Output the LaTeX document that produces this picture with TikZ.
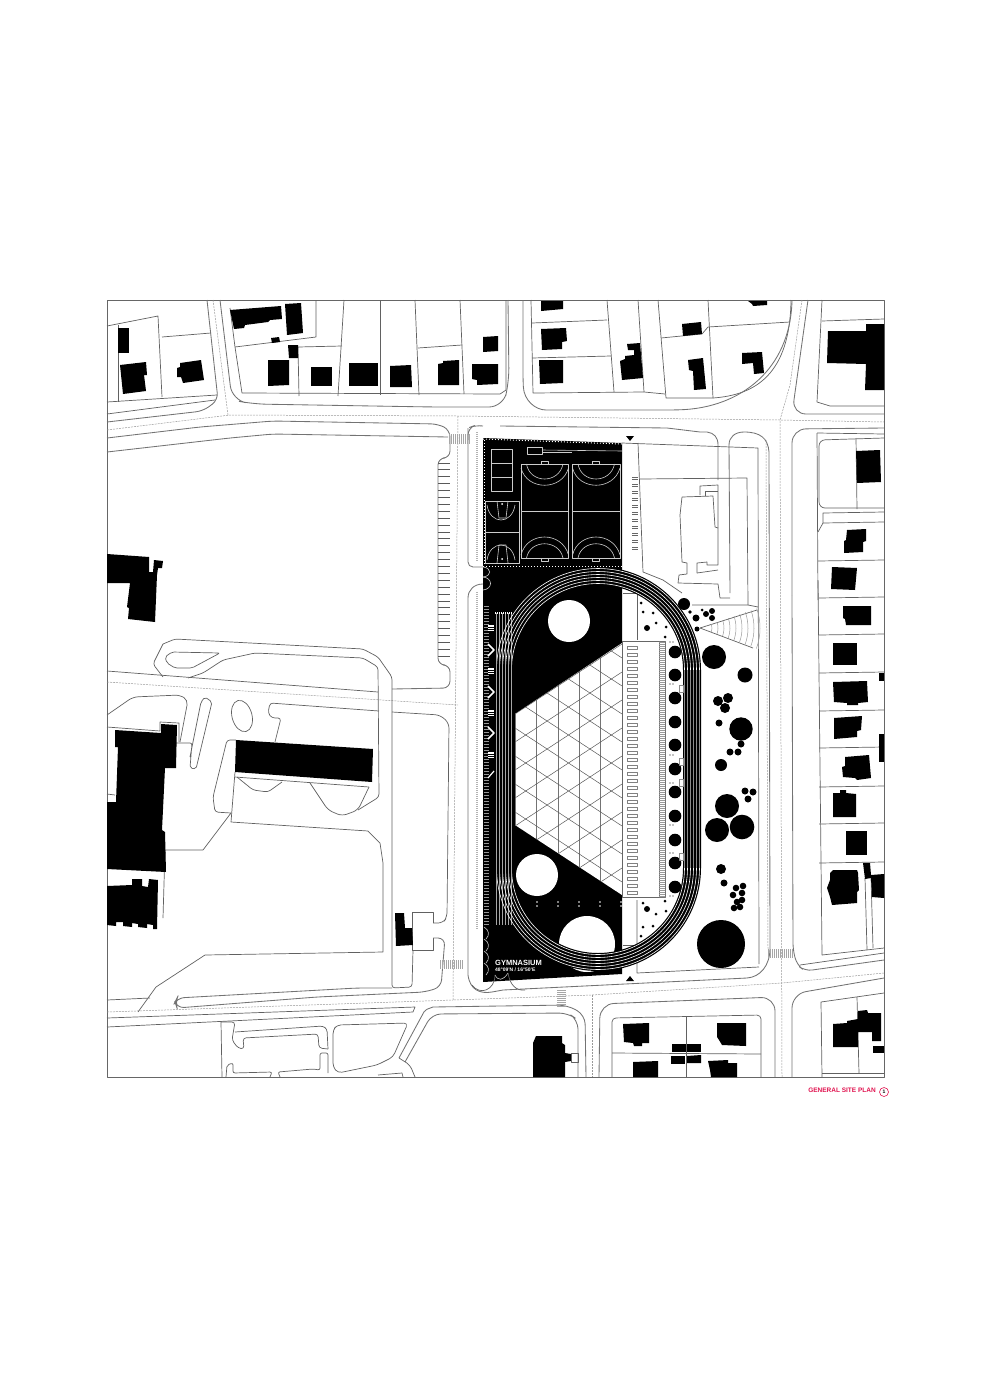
\documentclass[tikz,border=0pt]{standalone}
\usepackage{fontspec}
\setmainfont{Liberation Sans}
\definecolor{planred}{HTML}{E0134F}
\newcommand{\ovalpath}[1]{({598-#1},670) arc[start angle=180,end angle=360,radius=#1] -- ({598+#1},868) arc[start angle=0,end angle=180,radius=#1] -- cycle}
\begin{document}
\begin{tikzpicture}[x=1pt,y=-1pt,line join=round]
\tikzstyle{bldg}=[fill=black]
\tikzstyle{parcel}=[draw=black!62,line width=.7pt]
\tikzstyle{kerb}=[draw=black!55,line width=.85pt,rounded corners=7pt]
\tikzstyle{centre}=[draw=black!40,line width=.5pt,dash pattern=on 2pt off 1pt]
\tikzstyle{stripe}=[draw=black!35,line width=.8pt]
\tikzstyle{lane}=[draw=white,line width=.6pt]
\tikzstyle{courtline}=[draw=white!80!black,line width=.6pt]
\useasboundingbox (0,0) rectangle (988,1397);

% frame
\draw[draw=black!60,line width=.8pt] (107,300) rectangle (884,1077);

% parcels north west
\draw[parcel] (107,326) -- (158,316) -- (162,397);
\draw[parcel] (118,325) -- (118,402);
\draw[parcel] (162,337) -- (211,333);
\draw[parcel] (107,402) -- (217,395);
\draw[parcel] (107,414) -- (215,400);
\draw[parcel] (230,308) -- (235,347) -- (242,393) -- (500,394) -- (506,390) -- (506,300);
\draw[parcel] (235,347) -- (316,337) -- (316,300);
\draw[parcel] (299,396) -- (298,347) -- (342,346);
\draw[parcel] (344,300) -- (338,396);
\draw[parcel] (380,300) -- (380,395);
\draw[parcel] (415,300) -- (419,395);
\draw[parcel] (418,348) -- (462,345);
\draw[parcel] (460,300) -- (464,394);
% parcels north middle
\draw[parcel] (531,300) -- (533,393) -- (644,392) -- (665,394);
\draw[parcel] (532,323) -- (607,320);
\draw[parcel] (532,358) -- (611,356);
\draw[parcel] (607,300) -- (614,392);
\draw[parcel] (638,300) -- (644,392);
\draw[parcel] (658,300) -- (666,398) -- (713,398);
\draw[parcel] (708,300) -- (713,398);
\draw[parcel] (661,338) -- (702,334) -- (708,327) -- (790,322);
\draw[parcel] (713,398) .. controls (755,395) and (790,375) .. (791,300);
% parcels north east
\draw[parcel] (822,300) -- (817,402) -- (830,406) -- (884,406);
\draw[parcel] (822,321) -- (884,319);
\draw[parcel] (817,433) -- (884,434);
\draw[parcel] (817,433) -- (818,600);
\draw[parcel,rounded corners=6pt] (884,438) -- (819,440) -- (819,508) -- (884,508);
\draw[parcel] (856,438) -- (857,509);
\draw[parcel] (823,523) -- (823,513) -- (884,512);
\draw[parcel] (823,523) -- (884,522);
\draw[parcel] (818,532) -- (823,523);
\draw[parcel] (818,561) -- (884,560);
\draw[parcel] (818,580) -- (822,955) -- (884,948);
\foreach \py in {598,635,673,711,748,787,824,863}
  \draw[parcel] (819,\py) -- (884,\py-1);
\draw[parcel] (865,878) -- (867,950);
\draw[parcel] (871,878) -- (873,948);
% parcels south
\draw[parcel,rounded corners=4pt] (612,1077) -- (612,1018) -- (761,1015) -- (761,1077);
\draw[parcel] (612,1053) -- (761,1054);
\draw[parcel] (686,1017) -- (686,1077);
\draw[parcel] (822,1077) -- (821,1002) -- (884,993);
\draw[parcel] (857,997) -- (859,1073);
\draw[parcel] (822,1073) -- (884,1073);

% roads
\draw[kerb] (107,422) -- (203,411) -- (218,400) -- (207,300);
\draw[kerb,rounded corners=14pt] (220,300) -- (232,400) -- (253,404) -- (433,407) -- (503,407) -- (509,382) -- (508,300);
\draw[kerb] (107,438) -- (200,427) -- (273,421) -- (438,424) -- (450,430) -- (450,458) -- (438,458) -- (438,665) -- (450,665) -- (450,688) -- (392,689);
\draw[kerb] (107,452) -- (230,438) -- (273,434) -- (448,437);
\draw[kerb] (523,300) -- (523,380) .. controls (524,400) and (535,410) .. (553,410) -- (673,410) .. controls (740,408) and (790,370) .. (792,301);
\draw[kerb,rounded corners=0pt] (500,426) -- (667,428) -- (700,432) -- (707,432) .. controls (714,433) and (718,437) .. (718,445) -- (718,480);
\draw[kerb,rounded corners=0pt] (730,593) -- (729,445) .. controls (729,437) and (735,432) .. (744,432) .. controls (760,432) and (768,438) .. (769,452) -- (770,948) .. controls (770,966) and (760,977) .. (747,978) -- (503,990) -- (492,992) .. controls (480,994) and (470,990) .. (468,975) -- (468,598) .. controls (468,590) and (474,584) .. (483,584);
\draw[kerb,rounded corners=5pt] (468,428) -- (468,567) -- (483,567);
\draw[kerb] (468,440) -- (468,428) -- (476,425) -- (483,426);
\draw[kerb,rounded corners=14pt] (808,300) -- (792,414) -- (884,414);
\draw[kerb,rounded corners=14pt] (792,595) -- (792,429) -- (884,428);
\draw[kerb] (792,595) -- (793,950) -- (797,965) -- (805,971) -- (884,960);
\draw[parcel] (800,965) -- (884,953);
\draw[kerb,rounded corners=14pt] (792,1077) -- (792,994) -- (884,978);
\draw[kerb,rounded corners=14pt] (775,1077) -- (775,997) -- (600,1004) -- (599,1077);
\draw[kerb,rounded corners=9pt] (433,1007) -- (567,1005) -- (585,1015) -- (586,1077);
\draw[kerb,rounded corners=9pt] (405,1062) -- (432,1014) -- (568,1013) -- (578,1020) -- (578,1077);
\draw[kerb,rounded corners=2pt] (399,1058) -- (425,1010) -- (433,1007);
\draw[centre] (107,430) -- (230,415) -- (458,416) -- (780,420) -- (884,422);
\draw[centre] (213,300) -- (228,415);
\draw[centre] (802,300) -- (790,385) -- (780,420) -- (782,1077);
\draw[centre] (458,416) -- (453,1000) -- (592,995) -- (782,983) -- (884,973);
\draw[centre] (592,995) -- (592,1077);
\draw[centre] (107,682) -- (458,705);
\draw[centre] (107,1012) -- (453,1000);
\draw[centre] (766,440) -- (768,950);

% school grounds
\draw[parcel,rounded corners=3pt] (163,644) -- (175,639) -- (363,649) -- (378,657) -- (392,677) -- (392,988) -- (412,987) -- (413,950);
\draw[parcel,rounded corners=3pt] (163,644) -- (153,664) -- (163,677);
\draw[parcel,rounded corners=3pt] (188,678) -- (203,673) -- (223,660) -- (255,653) -- (363,658) -- (378,667) -- (379,797) -- (358,810);
\draw[parcel,rounded corners=2pt] (165,657) -- (172,652) -- (220,653) -- (192,668) -- (175,668) -- (167,663) -- cycle;
\draw[parcel] (107,671) -- (378,692);
\draw[parcel,rounded corners=5pt] (107,715) -- (133,697) -- (180,695) -- (188,700) -- (180,742);
\draw[parcel] (107,727) -- (160,731) -- (160,722) -- (179,723) -- (179,742);
\draw[parcel,rounded corners=2pt] (175,743) -- (192,743) -- (190,768) -- (196,769) -- (212,702) -- (205,697) -- (201,702) -- (190,757);
\draw[parcel,rotate around={15:(242,716)}] (242,716) ellipse (10 and 16);
\draw[parcel,rounded corners=3pt] (379,711) -- (270,703) -- (268,713) -- (272,718) -- (281,718) -- (275,742);
\draw[parcel,rounded corners=3pt] (236,740) -- (227,740) -- (213,797) -- (215,812) -- (231,813);
\draw[parcel] (235,772) -- (231,822) -- (368,831) -- (380,843) -- (383,863) -- (383,952) -- (205,955) -- (156,987) -- (138,1012);
\draw[parcel] (231,813) -- (203,850) -- (165,850) -- (163,918);
\draw[parcel] (235,777) -- (369,787);
\draw[parcel,rounded corners=3pt] (237,777) -- (253,790) -- (268,792) -- (282,782);
\draw[parcel,rounded corners=5pt] (310,783) -- (328,810) -- (342,816) -- (358,810) -- (369,787);
\draw[parcel] (107,794) -- (115,795);
\draw[parcel,rounded corners=5pt] (392,712) -- (440,715) -- (449,723) -- (447,917) -- (443,923) -- (433,923);
\draw[parcel] (433,923) -- (433,912) -- (412,912) -- (412,950) -- (433,950) -- (433,938);
\draw[kerb] (433,938) -- (445,938) -- (441,987) -- (425,992) -- (317,997) -- (177,1008) -- (175,1002) -- (177,998) -- (357,988) -- (392,988);
\draw[parcel] (107,1000) -- (150,998);
\draw[parcel] (107,1018) -- (415,1007) -- (413,1012) -- (107,1027);
\draw[parcel] (221,1022) -- (222,1077);
\draw[parcel,rounded corners=3pt] (221,1022) -- (235,1022) -- (232,1040) -- (238,1048) -- (244,1049) -- (243,1038) -- (318,1034) -- (319,1048) -- (328,1049);
\draw[parcel,rounded corners=3pt] (235,1032) -- (323,1026) -- (327,1029) -- (328,1049);
\draw[parcel,rounded corners=2pt] (280,1077) -- (278,1072) -- (313,1069) -- (320,1070) -- (320,1053) -- (328,1053) -- (328,1073);
\draw[parcel,rounded corners=2pt] (226,1077) -- (227,1065) -- (233,1063) -- (233,1073) -- (272,1072) -- (270,1077);
\draw[parcel,rounded corners=4pt] (333,1030) -- (337,1025) -- (408,1023) -- (393,1057) -- (377,1065) -- (338,1073) -- (333,1067) -- cycle;
\draw[parcel] (378,1075) -- (402,1073) -- (403,1077);
\draw[parcel,rounded corners=4pt] (399,1058) -- (410,1065) -- (415,1077);

% crossings and parking
\foreach \sx in {449,451,...,469}
  \draw[stripe] (\sx,434) -- (\sx,444);
\foreach \sx in {440,442,...,463}
  \draw[stripe] (\sx,960) -- (\sx,969);
\foreach \sx in {768,770,...,793}
  \draw[stripe] (\sx,949) -- (\sx,958);
\foreach \sy in {990,992,...,1006}
  \draw[stripe] (557,\sy) -- (566,\sy);
\foreach \sy in {463,469.9,...,657}
  \draw[draw=black!65,line width=.9pt] (438,\sy) -- (450,\sy);

% plot east of the field
\draw[parcel] (622,443) -- (758,448) -- (759,964);
\draw[parcel] (638,443) -- (643,572) -- (663,580) -- (682,593);
\draw[parcel] (640,479) -- (747,478) -- (748,605);
\draw[parcel] (682,497) -- (713,496) -- (715,527) -- (718,528) -- (718,565) -- (707,565) -- (707,562) -- (697,563) -- (697,573) -- (718,570);
\draw[parcel] (682,497) -- (680,515) -- (682,562) -- (687,563) -- (687,574) -- (679,575) -- (678,583) -- (718,584) -- (720,598) -- (730,598);
\draw[parcel] (700,495) -- (700,486) -- (718,485) -- (718,528);
\draw[parcel] (705,496) -- (705,491) -- (718,491);
\draw[parcel] (692,605) -- (748,605) -- (758,607);
\draw[parcel] (623,593) -- (637,593) -- (637,640);
\draw[parcel] (623,945) -- (637,945);
\draw[parcel] (637,900) -- (637,973) -- (759,967);
\foreach \sy in {477,484,...,547} {
  \draw[draw=black!60,line width=.6pt] (632,\sy) -- (638,\sy);
  \draw[draw=black!60,line width=.6pt] (632,\sy+2) -- (638,\sy+2);
}
% amphitheatre
\draw[parcel] (700,628) -- (757,610);
\draw[parcel] (700,628) -- (753,648);
\foreach \fr in {12,18,...,60}
  \draw[draw=black!40,line width=.5pt] (700,628) ++(-19:\fr) arc[start angle=-19,end angle=20,radius=\fr];

% buildings north west
\fill[bldg] (118,328) -- (129,328) -- (129,353) -- (118,353) -- cycle;
\fill[bldg] (120,365) -- (146,362) -- (147,375) -- (144,375) -- (146,391) -- (123,394) -- cycle;
\fill[bldg] (180,363) -- (201,360) -- (204,380) -- (183,383) -- (181,377) -- (177,377) -- (177,368) -- (180,367) -- cycle;
\fill[bldg] (230,310) -- (281,306) -- (282,319) -- (270,320) -- (268,322) -- (245,325) -- (244,328) -- (234,329) -- cycle;
\fill[bldg] (285,304) -- (301,303) -- (303,333) -- (287,335) -- cycle;
\fill[bldg] (271,338) -- (279,337) -- (280,342) -- (272,343) -- cycle;
\fill[bldg] (288,345) -- (298,345) -- (298,358) -- (289,358) -- cycle;
\fill[bldg] (268,360) -- (289,360) -- (289,385) -- (268,386) -- cycle;
\fill[bldg] (311,367) -- (332,367) -- (332,386) -- (311,386) -- cycle;
\fill[bldg] (349,363) -- (378,363) -- (378,386) -- (349,386) -- cycle;
\fill[bldg] (390,366) -- (411,365) -- (412,387) -- (390,387) -- cycle;
\fill[bldg] (438,364) -- (443,363) -- (443,361) -- (459,360) -- (459,385) -- (438,385) -- cycle;
\fill[bldg] (483,337) -- (498,336) -- (498,351) -- (483,352) -- cycle;
\fill[bldg] (472,364) -- (498,364) -- (498,384) -- (477,385) -- (477,380) -- (472,379) -- cycle;
% buildings north middle
\fill[bldg] (541,301) -- (563,301) -- (563,309) -- (541,311) -- cycle;
\fill[bldg] (541,329) -- (566,328) -- (567,341) -- (562,342) -- (562,349) -- (542,350) -- cycle;
\fill[bldg] (539,360) -- (563,360) -- (563,383) -- (540,384) -- cycle;
\fill[bldg] (627,344) -- (640,343) -- (643,378) -- (622,380) -- (620,361) -- (625,359) -- (625,356) -- (634,355) -- (634,350) -- (628,350) -- cycle;
\fill[bldg] (682,324) -- (701,322) -- (702,334) -- (683,336) -- cycle;
\fill[bldg] (688,360) -- (703,358) -- (706,389) -- (694,390) -- (693,371) -- (689,370) -- cycle;
\fill[bldg] (742,353) -- (762,352) -- (764,373) -- (754,374) -- (753,363) -- (742,364) -- cycle;
\fill[bldg] (748,301) -- (767,301) -- (767,305) -- (753,306) -- (752,304) -- cycle;
% buildings east
\fill[bldg] (828,331) -- (866,331) -- (866,324) -- (884,324) -- (884,390) -- (865,390) -- (866,364) -- (827,363) -- cycle;
\fill[bldg] (856,451) -- (880,450) -- (881,482) -- (857,483) -- cycle;
\fill[bldg] (847,530) -- (866,529) -- (866,541) -- (863,542) -- (863,552) -- (844,553) -- (844,541) -- (846,540) -- cycle;
\fill[bldg] (832,567) -- (857,568) -- (855,590) -- (831,589) -- cycle;
\fill[bldg] (843,606) -- (871,606) -- (871,625) -- (846,625) -- (845,619) -- (843,618) -- cycle;
\fill[bldg] (833,643) -- (857,643) -- (857,665) -- (833,665) -- cycle;
\fill[bldg] (879,673) -- (884,673) -- (884,681) -- (879,681) -- cycle;
\fill[bldg] (833,682) -- (867,681) -- (868,702) -- (858,703) -- (858,705) -- (847,705) -- (847,703) -- (834,702) -- cycle;
\fill[bldg] (834,718) -- (862,716) -- (861,730) -- (857,731) -- (857,737) -- (834,739) -- cycle;
\fill[bldg] (879,734) -- (884,734) -- (884,762) -- (879,762) -- cycle;
\fill[bldg] (845,757) -- (869,755) -- (871,778) -- (857,780) -- (855,778) -- (843,777) -- (842,767) -- (845,766) -- cycle;
\fill[bldg] (833,793) -- (840,793) -- (840,790) -- (846,790) -- (846,793) -- (856,794) -- (856,817) -- (833,817) -- cycle;
\fill[bldg] (846,831) -- (867,831) -- (867,855) -- (846,855) -- cycle;
\fill[bldg] (833,870) -- (857,870) -- (858,873) -- (859,890) -- (857,892) -- (857,903) -- (832,905) -- (830,897) -- (827,888) -- (830,880) -- (830,873) -- cycle;
\fill[bldg] (863,863) -- (870,863) -- (871,875) -- (884,874) -- (884,898) -- (872,897) -- (871,878) -- (865,879) -- cycle;
% buildings south
\fill[bldg] (623,1024) -- (649,1023) -- (649,1043) -- (642,1043) -- (642,1046) -- (634,1046) -- (633,1043) -- (624,1042) -- cycle;
\fill[bldg] (717,1023) -- (746,1023) -- (746,1046) -- (722,1045) -- (719,1040) -- (717,1037) -- cycle;
\fill[bldg] (672,1044) -- (686,1044) -- (686,1052) -- (672,1052) -- cycle;
\fill[bldg] (687,1044) -- (701,1044) -- (701,1052) -- (687,1052) -- cycle;
\fill[bldg] (671,1056) -- (685,1056) -- (685,1064) -- (671,1064) -- cycle;
\fill[bldg] (687,1056) -- (701,1055) -- (701,1063) -- (687,1063) -- cycle;
\fill[bldg] (633,1062) -- (658,1061) -- (658,1077) -- (633,1077) -- cycle;
\fill[bldg] (708,1061) -- (728,1060) -- (728,1063) -- (737,1063) -- (737,1077) -- (711,1077) -- (710,1070) -- cycle;
\fill[bldg] (833,1024) -- (847,1023) -- (847,1021) -- (858,1019) -- (858,1011) -- (867,1010) -- (868,1013) -- (881,1013) -- (881,1041) -- (872,1041) -- (872,1032) -- (858,1032) -- (858,1047) -- (833,1047) -- cycle;
\fill[bldg] (873,1046) -- (884,1046) -- (884,1053) -- (873,1053) -- cycle;
\fill[bldg] (536,1036) -- (562,1036) -- (562,1043) -- (565,1045) -- (565,1053) -- (571,1054) -- (571,1061) -- (565,1062) -- (565,1077) -- (533,1077) -- (533,1043) -- cycle;
\draw[parcel] (571,1053) rectangle (578,1062);
% buildings west
\fill[bldg] (107,554) -- (149,557) -- (149,572) -- (153,572) -- (154,560) -- (163,561) -- (162,568) -- (158,568) -- (157,575) -- (155,622) -- (128,619) -- (129,608) -- (127,607) -- (130,583) -- (107,583) -- cycle;
\fill[bldg] (115,730) -- (161,733) -- (161,724) -- (177,725) -- (176,768) -- (165,768) -- (162,830) -- (165,832) -- (166,872) -- (107,869) -- (107,802) -- (116,802) -- (118,747) -- (115,747) -- cycle;
\fill[bldg] (107,886) -- (132,885) -- (132,879) -- (142,879) -- (142,886) -- (148,887) -- (149,879) -- (158,880) -- (157,929) -- (153,929) -- (153,925) -- (147,924) -- (147,928) -- (138,927) -- (138,924) -- (132,923) -- (132,927) -- (123,926) -- (123,922) -- (116,922) -- (116,926) -- (107,925) -- cycle;
\fill[bldg] (236,740) -- (373,749) -- (372,782) -- (235,772) -- cycle;
\fill[bldg] (395,913) -- (404,913) -- (405,928) -- (412,928) -- (413,945) -- (396,946) -- cycle;

% the site
\fill[black] (483,438) -- (622,443) -- (622,974) -- (483,982) -- cycle;
\foreach \cx/\cy/\cr in {569/621/21,537/875/21,587/944/28}
  \fill[white] (\cx,\cy) circle[radius=\cr];

% roof lattice
\fill[white] (515,714) -- (622,643) -- (622,895) -- (515,825) -- cycle;
\begin{scope}
\clip (515,714) -- (622,643) -- (622,895) -- (515,825) -- cycle;
\foreach \lx in {515,536.4,...,623}
  \draw[draw=black!55,line width=.6pt] (\lx,640) -- (\lx,900);
\foreach \lk in {-10,...,14} {
  \draw[draw=black!65,line width=.5pt] (515,714+\lk*28) -- (622,714+\lk*28-70);
  \draw[draw=black!65,line width=.5pt] (515,700+\lk*28) -- (622,700+\lk*28+70);
}
\end{scope}
% grandstand
\draw[draw=black!60,fill=white,line width=.8pt] (622,641) rectangle (659,897);
\foreach \ry in {646,653,...,892}
  \draw[draw=black!50,line width=.6pt] (627,\ry) rectangle (637,\ry+3);
\draw[draw=black!55,line width=.5pt] (659,641) rectangle (665,897);
\foreach \ry in {642,644,...,896}
  \draw[draw=black!40,line width=.5pt] (659,\ry) -- (665,\ry);
\foreach \ry in {902,906}
  \foreach \rx in {537,558,579,600,621}
    \fill[white] (\rx,\ry) circle[radius=.8];

% track
\fill[black,even odd rule] \ovalpath{103} \ovalpath{85};
\foreach \lr in {86.5,89.5,92.5,95.5,98.5,101.5} {
  \draw[lane] ({598-\lr},670) arc[start angle=180,end angle=360,radius=\lr];
  \draw[lane] ({598+\lr},868) arc[start angle=0,end angle=180,radius=\lr];
  \draw[draw=white!55!black,line width=.3pt] ({598+\lr},670) -- ({598+\lr},868);
  \draw[draw=white!65!black,line width=.35pt] ({598-\lr},613) -- ({598-\lr},925);
}
\draw[lane,dash pattern=on 1pt off 1pt,line width=1.2pt] (495,613) -- (512,613);

% ball courts
\draw[courtline] (491,449) rectangle (512,491);
\draw[courtline] (491,463) -- (512,463);
\draw[courtline] (491,477) -- (512,477);
\foreach \cx in {521,572.5} {
  \draw[courtline] (\cx,464) rectangle ({\cx+47.5},558);
  \draw[courtline] (\cx,511) -- ({\cx+47.5},511);
  \draw[courtline] (\cx,468) .. controls ({\cx+6},491) and ({\cx+41},491) .. ({\cx+47.5},468);
  \draw[courtline] ({\cx+5.5},464) .. controls ({\cx+9},484) and ({\cx+38},484) .. ({\cx+42},464);
  \draw[courtline] (\cx,555) .. controls ({\cx+6},531) and ({\cx+41},531) .. ({\cx+47.5},555);
  \draw[courtline] ({\cx+5.5},558) .. controls ({\cx+9},539) and ({\cx+38},539) .. ({\cx+42},558);
  \draw[courtline] ({\cx+20},461) rectangle ({\cx+27},464);
  \draw[courtline] ({\cx+20},558) rectangle ({\cx+27},561);
}
\draw[courtline] (485,501) rectangle (519,532);
\draw[courtline] (485,532) rectangle (519,563);
\draw[courtline] (487,505) .. controls (490,525) and (512,525) .. (515,505);
\draw[courtline] (487,560) .. controls (490,540) and (512,540) .. (515,560);
\draw[courtline] (497,501) -- (499,518) -- (506,518) -- (508,501);
\draw[courtline] (497,563) -- (499,545) -- (506,545) -- (508,563);
\fill[white] (502,504) circle[radius=1];
\fill[white] (502,559) circle[radius=1];
\draw[courtline] (527,447) rectangle (542,454);
\draw[courtline] (542,450) -- (622,451);
\draw[courtline] (542,452) -- (572,452);
\draw[draw=white,line width=1pt,dash pattern=on 1pt off 2pt] (483,439) -- (622,444);
\draw[draw=white,line width=1pt,dash pattern=on 1pt off 2pt] (483,566) -- (622,566);
\draw[draw=white,line width=1pt,dash pattern=on 1pt off 2pt] (484,440) -- (484,566);
\draw[draw=black!30,line width=1.4pt,dash pattern=on 1pt off 1pt] (477,432) -- (477,562);
\draw[draw=black!30,line width=1.4pt,dash pattern=on 1pt off 1pt] (477,592) -- (477,930);

% west strip
\draw[courtline] (483,567) .. controls (492,568) and (492,576) .. (483,577);
\draw[courtline] (483,577) .. controls (493,578) and (493,589) .. (483,590);
\foreach \ty in {606,609,...,925}
  \draw[draw=white!60!black,line width=.5pt] (484,\ty) -- (489,\ty);
\foreach \gy in {628,671,713,755}
  \fill[white] (488,{\gy-3}) rectangle (494,{\gy+3});
\foreach \gy in {628,671,713,755}
  \foreach \gl in {-1,1}
    \draw[draw=black,line width=.5pt] (488,\gy+\gl) -- (494,\gy+\gl);
\foreach \vy in {650,692,733}
  \draw[draw=white,line width=1.5pt] (488,\vy-6) -- (494,\vy) -- (488,\vy+6);
\draw[draw=white,line width=1.2pt] (488,778) -- (494,771);
\foreach \zy in {927,939,951,963}
  \draw[courtline] (484,\zy) .. controls (489,{\zy+3}) and (490,{\zy+8}) .. (486,{\zy+12});
\draw[courtline] (495,975) .. controls (498,981) and (503,981) .. (508,973);
\draw[parcel] (495,975) .. controls (495,990) and (480,996) .. (472,985);
\draw[parcel] (508,973) .. controls (510,985) and (516,991) .. (525,990);

% trees
\foreach \tx/\ty/\tr in {714/657/12,745/675/7.5,718/701/5,728/698/5,725/708/5,719/723/3.5,741/729/11.7,741/744/3.5,738/752/3.5,730/752/3.5,721/765/6,745/791/3.5,753/792/3.5,748/799/3.5,727/806/12,717/830/12,742/827/12.3,721/869/5,724/883/3.5,743/886/3.3,736/888/3.3,742/893/3.3,733/895/3.3,737/902/3.3,742/900/3.3,734/908/3.3,740/907/3.3,721/944/24,684/604/6,696/618/3.5,712/611/3,712/618/3,706/614/3,697/629/2.5,690/612/1.8,702/610/1.5,647/628/3,647/909/3}
  \fill[black] (\tx,\ty) circle[radius=\tr];
\foreach \ty in {652,675,698,722,745,769,792,816,840,863,887}
  \fill[black] (675,\ty) circle[radius=6.3];
\foreach \tx/\ty in {641/603,643/612,653/613,656/623,666/627,665/637,643/903,643/927,653/926,656/914,666/911,665/901,641/936}
  \fill[black] (\tx,\ty) circle[radius=1.5];
\foreach \ty in {642,684,755,783,825,853,896} {
  \fill[black] (670,\ty) circle[radius=.7];
  \fill[black] (673,\ty) circle[radius=.7];
}
\foreach \ty in {685,758,779,853}
  \draw[draw=black!45,line width=.5pt] (679,\ty) rectangle (683,\ty+7);

% section marks
\fill[black] (626,436) -- (634,436) -- (630,441) -- cycle;
\fill[black] (626,981) -- (634,981) -- (630,976) -- cycle;

% labels
\node[anchor=west,inner sep=0pt,text=white,font=\bfseries\fontsize{7.5}{8}\selectfont] (sitename) at (495,963) {GYMNASIUM};
\node[anchor=west,inner sep=0pt,text=white,font=\bfseries\fontsize{5}{6}\selectfont] (sitepos) at (495,970) {48°09'N / 16°50'E};
\node[anchor=east,inner sep=0pt,text=planred,font=\bfseries\fontsize{6.5}{7}\selectfont] (plantitle) at (876,1090) {GENERAL SITE PLAN};
\node[circle,draw=planred,line width=.6pt,inner sep=0pt,minimum size=9pt,text=black,font=\bfseries\fontsize{5}{6}\selectfont] (planno) at (884,1092) {1};
\end{tikzpicture}
\end{document}
